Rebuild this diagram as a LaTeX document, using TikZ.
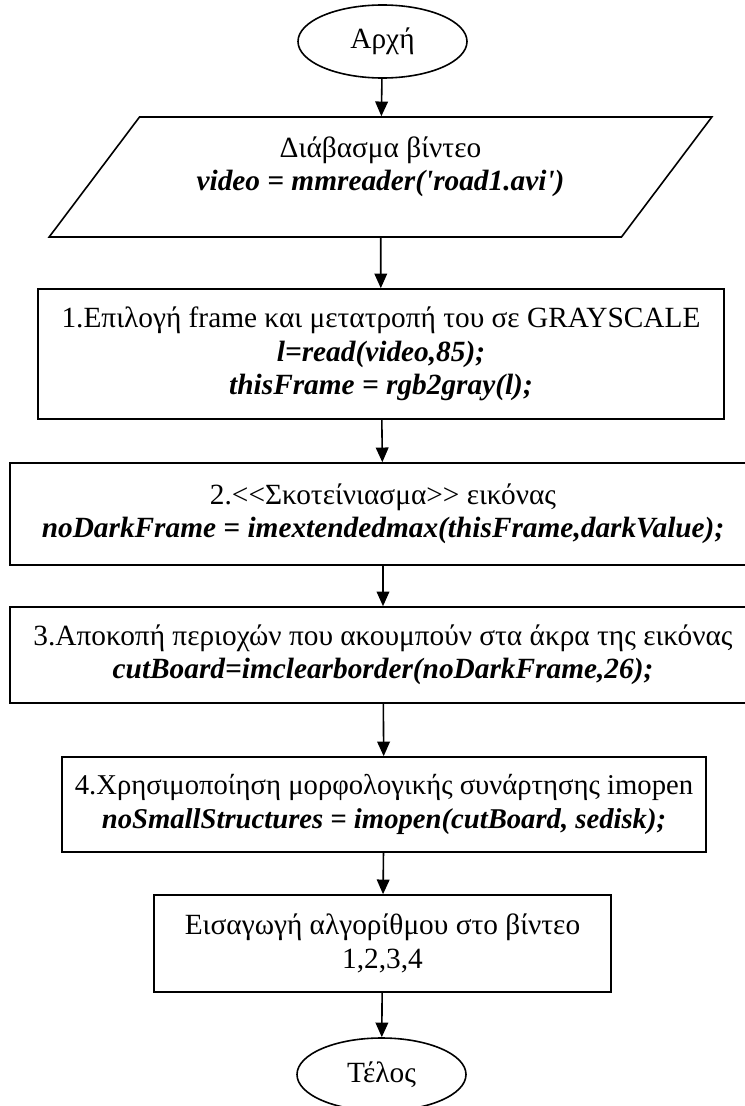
\documentclass[tikz,border=0pt]{standalone}
\usepackage{fontspec}
\setmainfont{Liberation Serif}[Ligatures=TeXOff]
\usetikzlibrary{shapes.geometric,arrows.meta}
\newcommand{\code}[1]{\textbf{\textit{#1}}}
\begin{document}
\begin{tikzpicture}[x=0.75pt,y=-0.75pt,line width=1.2pt,
        >={Triangle[length=11pt,width=9.5pt]},
        every node/.style={font=\fontsize{22}{25}\selectfont,align=center,inner sep=0pt},
        terminal/.style={ellipse,draw,minimum width=126.75pt,minimum height=54.75pt},
        io/.style={trapezium,trapezium left angle=42,trapezium right angle=138,
            trapezium stretches body,draw,minimum width=497pt,minimum height=90pt},
        process/.style={rectangle,draw}]
    \useasboundingbox (0,0) rectangle (744,1106);
    % start / end
    \node (start) [terminal] at (382.5,41.5) {Αρχή};
    \node (read) [io] at (380.5,177) {Διάβασμα βίντεο\\ \code{video = mmreader('road1.avi')}\\[-12pt] \strut};
    % processing steps
    \node (frame) [process,minimum width=514.5pt,minimum height=97.5pt] at (381,354)
        {1.Επιλογή frame και μετατροπή του σε GRAYSCALE\\ \code{l=read(video,85);}\\ \code{thisFrame = rgb2gray(l);}};
    \node (dark) [process,minimum width=559.5pt,minimum height=76.5pt] at (383,514)
        {2.<<Σκοτείνιασμα>> εικόνας\\ \code{noDarkFrame = imextendedmax(thisFrame,darkValue);}};
    \node (border) [process,minimum width=559.5pt,minimum height=72pt] at (383,655)
        {3.Αποκοπή περιοχών που ακουμπούν στα άκρα της εικόνας\\ \code{cutBoard=imclearborder(noDarkFrame,26);}};
    \node (open) [process,minimum width=483pt,minimum height=71.25pt,
        font=\fontsize{21.5}{25}\selectfont] at (384,804.5)
        {4.Χρησιμοποίηση μορφολογικής συνάρτησης imopen\\ \code{noSmallStructures = imopen(cutBoard, sedisk);}};
    \node (apply) [process,minimum width=342.75pt,minimum height=72.75pt] at (382.5,943.5)
        {Εισαγωγή αλγορίθμου στο βίντεο\\ 1,2,3,4};
    \node (end) [terminal] at (381.5,1074.5) {Τέλος};
    % flow
    \draw [->] (start) -- (read);
    \draw [->] (read) -- (frame);
    \draw [->] (frame) -- (dark);
    \draw [->] (dark) -- (border);
    \draw [->] (border) -- (open);
    \draw [->] (open) -- (apply);
    \draw [->] (apply) -- (end);
\end{tikzpicture}
\end{document}
